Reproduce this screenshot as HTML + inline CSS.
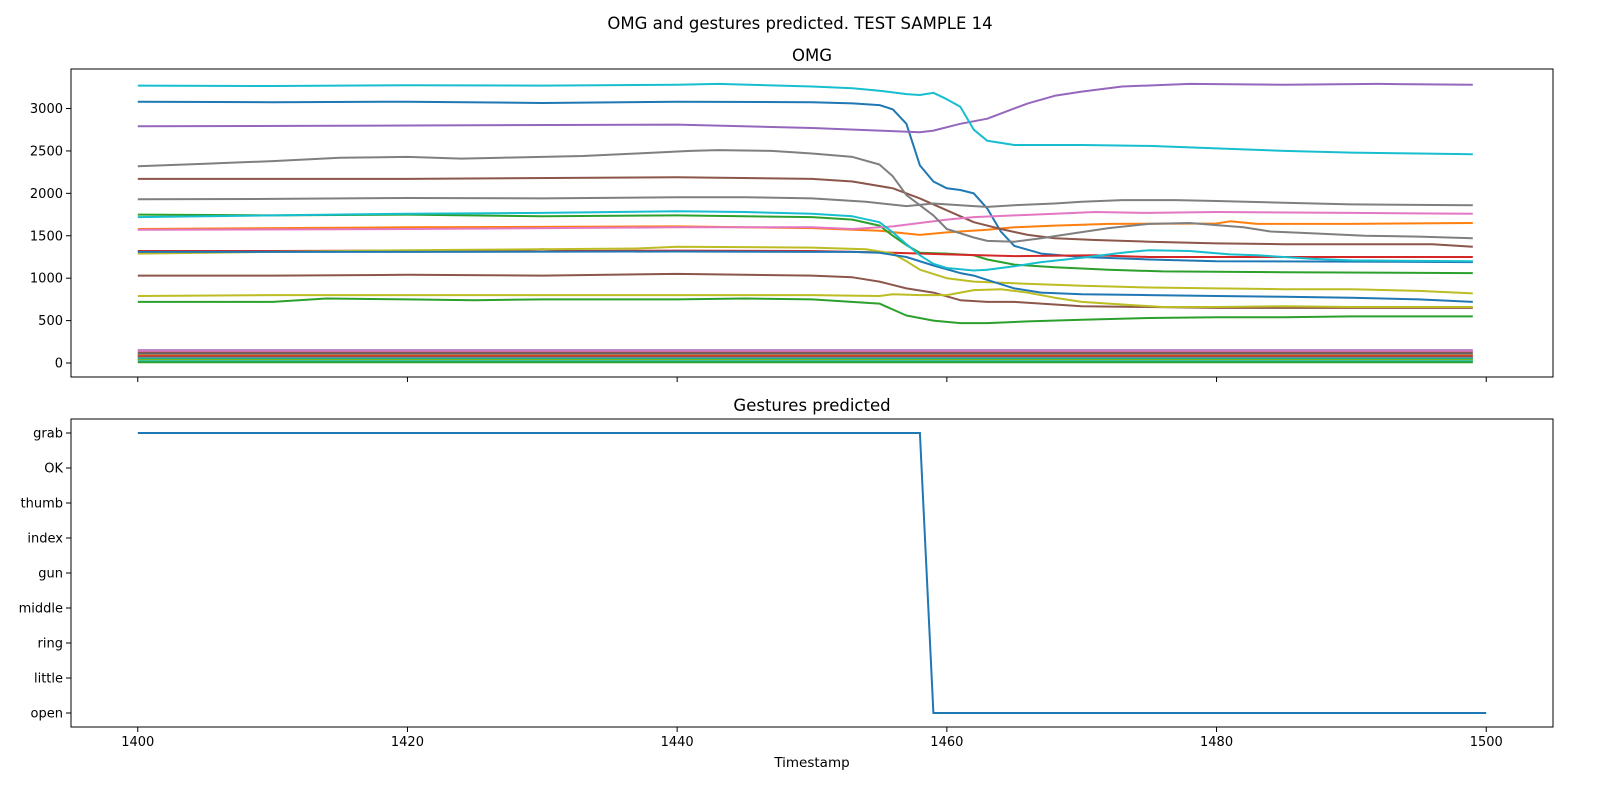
<!DOCTYPE html>
<html><head><meta charset="utf-8"><style>
html,body{margin:0;padding:0;background:#fff;}
svg{display:block;font-family:"DejaVu Sans","Liberation Sans",sans-serif;}
</style></head><body>
<svg id="fig" width="1600" height="800" viewBox="0 0 1600 800">
<rect width="1600" height="800" fill="#fff"/>
<text x="800" y="29" font-size="16.5" text-anchor="middle">OMG and gestures predicted. TEST SAMPLE 14</text>
<text x="812" y="61" font-size="16.5" text-anchor="middle">OMG</text>
<text x="812" y="411" font-size="16.5" text-anchor="middle">Gestures predicted</text>
<text x="812" y="767" font-size="13.5" text-anchor="middle">Timestamp</text>
<g id="gtop"></g>
<g id="gbot"></g>
</svg>
<script>
const xTicks = [1400,1420,1440,1460,1480,1500];
const yTicksTop = [0,500,1000,1500,2000,2500,3000];
const gestureLabels = ["open","little","ring","middle","gun","index","thumb","OK","grab"];
const gestureTimes = [1400,1458,1459,1500];
const gestureValues = [8,8,0,0];

const cyanA = [[1400,3270],[1410,3265],[1420,3275],[1430,3270],[1440,3280],[1443,3290],[1450,3260],[1453,3240],[1455,3210],[1457,3170],[1458,3160],[1459,3185],[1460,3110],[1461,3020],[1462,2750],[1463,2620],[1465,2570],[1470,2570],[1475,2560],[1480,2530],[1485,2500],[1490,2480],[1495,2470],[1499,2460]];
const blueA = [[1400,3080],[1410,3075],[1420,3080],[1430,3065],[1440,3080],[1450,3075],[1453,3060],[1455,3040],[1456,2990],[1457,2820],[1458,2330],[1459,2140],[1460,2060],[1461,2040],[1462,2000],[1463,1820],[1464,1550],[1465,1380],[1467,1290],[1470,1250],[1475,1220],[1480,1200],[1490,1195],[1499,1190]];
const purple = [[1400,2790],[1420,2800],[1440,2810],[1450,2770],[1455,2740],[1458,2720],[1459,2740],[1461,2820],[1463,2880],[1464,2940],[1466,3060],[1468,3150],[1470,3200],[1473,3260],[1478,3290],[1485,3280],[1492,3290],[1499,3280]];
const grayA = [[1400,2320],[1405,2350],[1410,2380],[1415,2420],[1420,2430],[1424,2410],[1427,2420],[1433,2440],[1437,2470],[1441,2500],[1443,2510],[1447,2500],[1450,2470],[1453,2430],[1455,2340],[1456,2200],[1457,1980],[1459,1740],[1460,1580],[1462,1480],[1463,1440],[1465,1430],[1467,1470],[1469,1520],[1472,1590],[1475,1640],[1478,1650],[1482,1600],[1484,1550],[1487,1530],[1491,1500],[1495,1490],[1499,1470]];
const brownA = [[1400,2170],[1420,2170],[1440,2190],[1450,2170],[1453,2140],[1456,2060],[1458,1940],[1460,1800],[1462,1660],[1464,1580],[1466,1510],[1468,1470],[1471,1450],[1475,1430],[1480,1410],[1485,1400],[1496,1400],[1499,1370]];
const grayB = [[1400,1930],[1410,1935],[1420,1945],[1430,1940],[1440,1955],[1445,1955],[1450,1940],[1454,1900],[1457,1850],[1459,1880],[1462,1850],[1463,1840],[1465,1860],[1468,1880],[1470,1900],[1473,1920],[1477,1920],[1480,1910],[1485,1890],[1490,1870],[1499,1860]];
const pink = [[1400,1570],[1420,1580],[1440,1600],[1450,1600],[1453,1580],[1456,1610],[1458,1650],[1460,1690],[1462,1720],[1465,1740],[1468,1760],[1471,1780],[1475,1770],[1480,1780],[1490,1770],[1499,1760]];
const orange = [[1400,1580],[1420,1600],[1440,1610],[1450,1590],[1455,1560],[1458,1510],[1460,1540],[1463,1570],[1465,1600],[1468,1620],[1472,1640],[1480,1645],[1481,1670],[1483,1640],[1490,1640],[1499,1650]];
const greenA = [[1400,1750],[1410,1740],[1420,1750],[1430,1730],[1440,1740],[1450,1720],[1453,1690],[1455,1620],[1456,1500],[1457,1390],[1458,1300],[1460,1290],[1462,1270],[1463,1220],[1465,1160],[1468,1130],[1472,1100],[1476,1080],[1485,1070],[1499,1060]];
const cyanB = [[1400,1720],[1410,1740],[1420,1760],[1430,1770],[1440,1790],[1445,1780],[1450,1760],[1453,1730],[1455,1660],[1456,1540],[1457,1400],[1458,1270],[1459,1170],[1460,1120],[1462,1090],[1463,1100],[1465,1140],[1467,1190],[1470,1240],[1473,1300],[1475,1330],[1478,1320],[1481,1280],[1483,1270],[1487,1230],[1490,1210],[1499,1200]];
const blueB = [[1400,1310],[1420,1310],[1440,1315],[1450,1310],[1453,1310],[1455,1300],[1457,1250],[1459,1150],[1461,1060],[1462,1030],[1463,980],[1465,880],[1467,830],[1470,810],[1475,800],[1480,790],[1485,780],[1490,770],[1495,750],[1499,720]];
const red = [[1400,1320],[1410,1320],[1420,1325],[1428,1320],[1430,1340],[1432,1320],[1440,1325],[1450,1320],[1456,1300],[1460,1280],[1465,1260],[1471,1270],[1475,1250],[1499,1250]];
const oliveA = [[1400,1290],[1410,1310],[1420,1330],[1430,1340],[1437,1350],[1440,1370],[1450,1360],[1454,1340],[1456,1290],[1457,1200],[1458,1100],[1460,1000],[1462,960],[1465,940],[1470,910],[1475,890],[1480,880],[1485,870],[1490,870],[1495,850],[1499,820]];
const brownB = [[1400,1030],[1410,1030],[1420,1040],[1430,1030],[1440,1050],[1450,1030],[1453,1010],[1455,960],[1457,880],[1459,830],[1461,740],[1463,720],[1465,720],[1467,700],[1470,670],[1475,660],[1480,650],[1499,650]];
const oliveB = [[1400,790],[1410,800],[1420,800],[1430,800],[1440,800],[1450,800],[1455,790],[1456,810],[1458,800],[1460,800],[1462,860],[1464,870],[1466,830],[1468,770],[1470,720],[1473,690],[1476,660],[1480,660],[1485,670],[1490,660],[1499,660]];
const greenB = [[1400,720],[1410,720],[1414,760],[1420,750],[1425,740],[1430,750],[1440,750],[1445,760],[1450,750],[1455,700],[1457,560],[1459,500],[1461,470],[1463,470],[1466,490],[1470,510],[1475,530],[1480,540],[1485,540],[1490,550],[1499,550]];
const lowValues = [150,140,120,100,90,80,70,60,50,40,30,20,10];
const lowColors = ["#9467bd","#e377c2","#8c564b","#1f77b4","#ff7f0e","#d62728","#8c564b","#7f7f7f","#17becf","#2ca02c","#bcbd22","#17becf","#2ca02c"];

const mainSeries = [[blueA,"#1f77b4"],[orange,"#ff7f0e"],[greenA,"#2ca02c"],[red,"#d62728"],[purple,"#9467bd"],[brownA,"#8c564b"],[pink,"#e377c2"],[grayA,"#7f7f7f"],[oliveA,"#bcbd22"],[cyanA,"#17becf"],[blueB,"#1f77b4"],[greenB,"#2ca02c"],[brownB,"#8c564b"],[grayB,"#7f7f7f"],[oliveB,"#bcbd22"],[cyanB,"#17becf"]];

const NS="http://www.w3.org/2000/svg";
function mk(tag,attrs,parent){const e=document.createElementNS(NS,tag);for(const k in attrs)e.setAttribute(k,attrs[k]);parent.appendChild(e);return e;}
const L=71,R=1553;
const xMin=1395.05,xMax=1504.95;
const xs=t=>L+(t-xMin)/(xMax-xMin)*(R-L);
const T0=69,B0=377,yMinT=-165,yMaxT=3466;
const ysT=v=>B0-(v-yMinT)/(yMaxT-yMinT)*(B0-T0);
const T1=419,B1=727,yMinB=-0.4,yMaxB=8.4;
const ysB=v=>B1-(v-yMinB)/(yMaxB-yMinB)*(B1-T1);

const gTop=document.getElementById('gtop'), gBot=document.getElementById('gbot');
lowValues.forEach((v,i)=>{
  const pts=[];
  for(let t=1400;t<=1499;t+=1){pts.push(xs(t).toFixed(1)+","+ysT(v).toFixed(1));}
  const p=mk('polyline',{points:pts.join(' '),fill:'none',stroke:lowColors[i],'stroke-width':2},gTop);
  
  
});
mainSeries.forEach(([s,c])=>{
  const pts=s.map(([t,v])=>xs(t).toFixed(1)+","+ysT(v).toFixed(1));
  const p=mk('polyline',{points:pts.join(' '),fill:'none',stroke:c,'stroke-width':2,'stroke-linejoin':'round'},gTop);
  
  
});
{
  const pts=gestureTimes.map((t,i)=>xs(t).toFixed(1)+","+ysB(gestureValues[i]).toFixed(1));
  const p=mk('polyline',{points:pts.join(' '),fill:'none',stroke:'#1f77b4','stroke-width':2},gBot);
  
  
}
[[gTop,T0,B0],[gBot,T1,B1]].forEach(([g,t,b])=>{
  const r=mk('rect',{x:L,y:t,width:R-L,height:b-t,fill:'none',stroke:'#000','stroke-width':1},g);
  
  
});
xTicks.forEach(t=>{
  const x=xs(t);
  mk('line',{x1:x,x2:x,y1:B0,y2:B0+5,stroke:'#000'},gTop);
  mk('line',{x1:x,x2:x,y1:B1,y2:B1+5,stroke:'#000'},gBot);
  const tx=mk('text',{x:x,y:B1+19,'font-size':13,'text-anchor':'middle'},gBot);
  tx.textContent=t;
  
  
});
yTicksTop.forEach(v=>{
  const y=ysT(v);
  mk('line',{x1:L-5,x2:L,y1:y,y2:y,stroke:'#000'},gTop);
  const tx=mk('text',{x:L-8,y:y+4.5,'font-size':13,'text-anchor':'end'},gTop);
  tx.textContent=v;
  
  
});
gestureLabels.forEach((lab,i)=>{
  const y=ysB(i);
  mk('line',{x1:L-5,x2:L,y1:y,y2:y,stroke:'#000'},gBot);
  const tx=mk('text',{x:L-8,y:y+4.5,'font-size':13,'text-anchor':'end'},gBot);
  tx.textContent=lab;
  
  
});
</script>
</body></html>
